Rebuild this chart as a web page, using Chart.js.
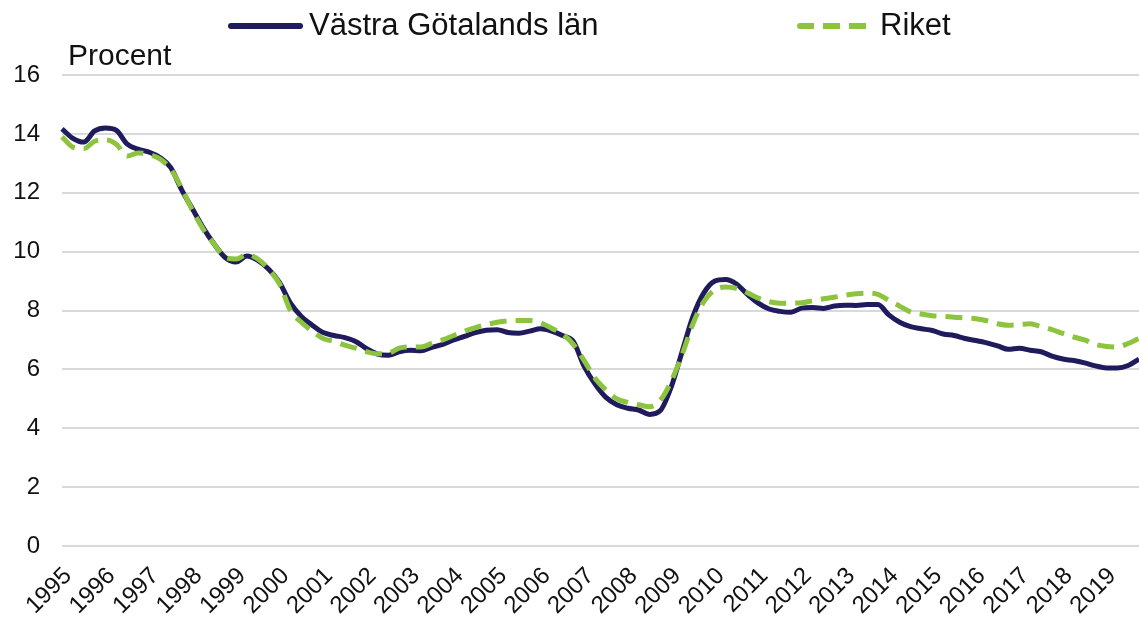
<!DOCTYPE html>
<html>
<head>
<meta charset="utf-8">
<script src="https://cdn.jsdelivr.net/npm/chart.js@4.4.1/dist/chart.umd.min.js"></script>
<style>
  html, body { margin: 0; padding: 0; background: #fff; }
  #wrap { position: relative; width: 1139px; height: 620px; font-family: "Liberation Sans", Arial, sans-serif; }
  #chart { position: absolute; left: 0; top: 0; }
  .leg { position: absolute; font-size: 31px; color: #111; white-space: nowrap; }
  .sample { position: absolute; height: 6px; }
  #procent { position: absolute; left: 68px; top: 38px; font-size: 30px; color: #111; }
</style>
</head>
<body>
<div id="wrap">
  <canvas id="chart" width="1139" height="620"></canvas>
  <div class="sample" style="left:228px; top:23px; width:75px; background:#1f1b5c; border-radius:3px;"></div>
  <div class="leg" style="left:309px; top:7px;">Västra Götalands län</div>
  <div class="sample" style="left:797px; top:23px; width:76px; background:repeating-linear-gradient(90deg,#8dc43f 0,#8dc43f 17px,transparent 17px,transparent 26px); border-radius:3px;"></div>
  <div class="leg" style="left:880px; top:7px;">Riket</div>
  <div id="procent">Procent</div>
</div>
<script>
  // år på x-axeln, kvartalsdata
  var years = ['1995','1996','1997','1998','1999','2000','2001','2002','2003','2004','2005','2006',
    '2007','2008','2009','2010','2011','2012','2013','2014','2015','2016','2017','2018','2019'];
  var quarters = ['K1','K2','K3','K4'];

  // Västra Götalands län, procent
  var vastraGotaland = [
    14.17, 13.85, 13.72, 14.10, 14.20, 14.12, 13.65, 13.48, 13.38, 13.20, 12.85, 12.10,
    11.45, 10.80, 10.25, 9.80, 9.65, 9.85, 9.70, 9.40, 8.95, 8.25, 7.80, 7.50,
    7.25, 7.15, 7.08, 6.95, 6.70, 6.52, 6.48, 6.60, 6.65, 6.63, 6.75, 6.85,
    7.00, 7.12, 7.25, 7.33, 7.35, 7.25, 7.23, 7.30, 7.38, 7.30, 7.15, 6.95,
    6.10, 5.50, 5.05, 4.80, 4.68, 4.62, 4.47, 4.60, 5.40, 6.60, 7.80, 8.60,
    9.00, 9.05, 8.90, 8.55, 8.25, 8.05, 7.97, 7.94, 8.08, 8.10, 8.07, 8.15,
    8.18, 8.17, 8.20, 8.20, 7.85, 7.60, 7.45, 7.38, 7.32, 7.20, 7.15, 7.05,
    6.98, 6.90, 6.80, 6.68, 6.72, 6.65, 6.60, 6.45, 6.35, 6.30, 6.22, 6.12,
    6.05, 6.05, 6.13, 6.35
  ];

  // Riket, procent
  var riket = [
    13.90, 13.55, 13.50, 13.75, 13.80, 13.65, 13.25, 13.35, 13.30, 13.15, 12.80, 12.15,
    11.40, 10.75, 10.25, 9.80, 9.75, 9.90, 9.75, 9.40, 8.90, 8.00, 7.60, 7.30,
    7.05, 6.95, 6.82, 6.72, 6.60, 6.53, 6.55, 6.72, 6.76, 6.76, 6.88, 7.00,
    7.15, 7.30, 7.42, 7.52, 7.60, 7.65, 7.66, 7.66, 7.58, 7.40, 7.20, 6.85,
    6.30, 5.70, 5.30, 5.00, 4.88, 4.80, 4.73, 4.95, 5.60, 6.50, 7.55, 8.30,
    8.70, 8.80, 8.75, 8.60, 8.42, 8.30, 8.25, 8.25, 8.26, 8.33, 8.40, 8.45,
    8.52, 8.57, 8.59, 8.55, 8.35, 8.15, 7.95, 7.88, 7.82, 7.80, 7.77, 7.75,
    7.72, 7.65, 7.55, 7.50, 7.52, 7.55, 7.45, 7.35, 7.22, 7.10, 7.00, 6.85,
    6.78, 6.76, 6.88, 7.05
  ];

  var yTicks = [0, 2, 4, 6, 8, 10, 12, 14, 16];

  var labels = [];
  years.forEach(function(y) {
    quarters.forEach(function(q) { labels.push(y + q); });
  });

  var ctx = document.getElementById('chart').getContext('2d');
  var myChart = new Chart(ctx, {
    type: 'line',
    data: {
      labels: labels,
      datasets: [{
        label: 'Riket',
        data: riket,
        borderColor: '#8dc43f',
        borderWidth: 5,
        borderDash: [17, 9],
        borderCapStyle: 'butt',
        pointRadius: 0,
        cubicInterpolationMode: 'monotone',
        order: 1
      }, {
        label: 'Västra Götalands län',
        data: vastraGotaland,
        borderColor: '#1f1b5c',
        borderWidth: 5,
        pointRadius: 0,
        cubicInterpolationMode: 'monotone',
        order: 2
      }]
    },
    options: {
      responsive: false,
      animation: false,
      layout: { padding: { top: 75, right: 0, left: 0, bottom: 0 } },
      plugins: { legend: { display: false }, tooltip: { enabled: false } },
      scales: {
        x: {
          grid: { display: false },
          border: { display: false },
          ticks: {
            autoSkip: false,
            maxRotation: 45,
            minRotation: 45,
            padding: 8,
            labelOffset: 6,
            color: '#111',
            font: { family: 'Liberation Sans', size: 24 },
            callback: function(val, idx) {
              return idx % 4 === 0 ? labels[idx].slice(0, 4) : '';
            }
          },
          afterFit: function(scale) {
            scale.height = 74;
            scale.paddingRight = 0;
          }
        },
        y: {
          min: 0,
          max: 16,
          afterBuildTicks: function(scale) {
            scale.ticks = yTicks.map(function(v) { return { value: v }; });
          },
          grid: { color: '#d9d9d9', lineWidth: 2, drawTicks: false },
          border: { display: false },
          ticks: {
            padding: 22,
            color: '#111',
            font: { family: 'Liberation Sans', size: 24 }
          },
          afterFit: function(scale) { scale.width = 62; }
        }
      }
    }
  });
</script>
</body>
</html>
